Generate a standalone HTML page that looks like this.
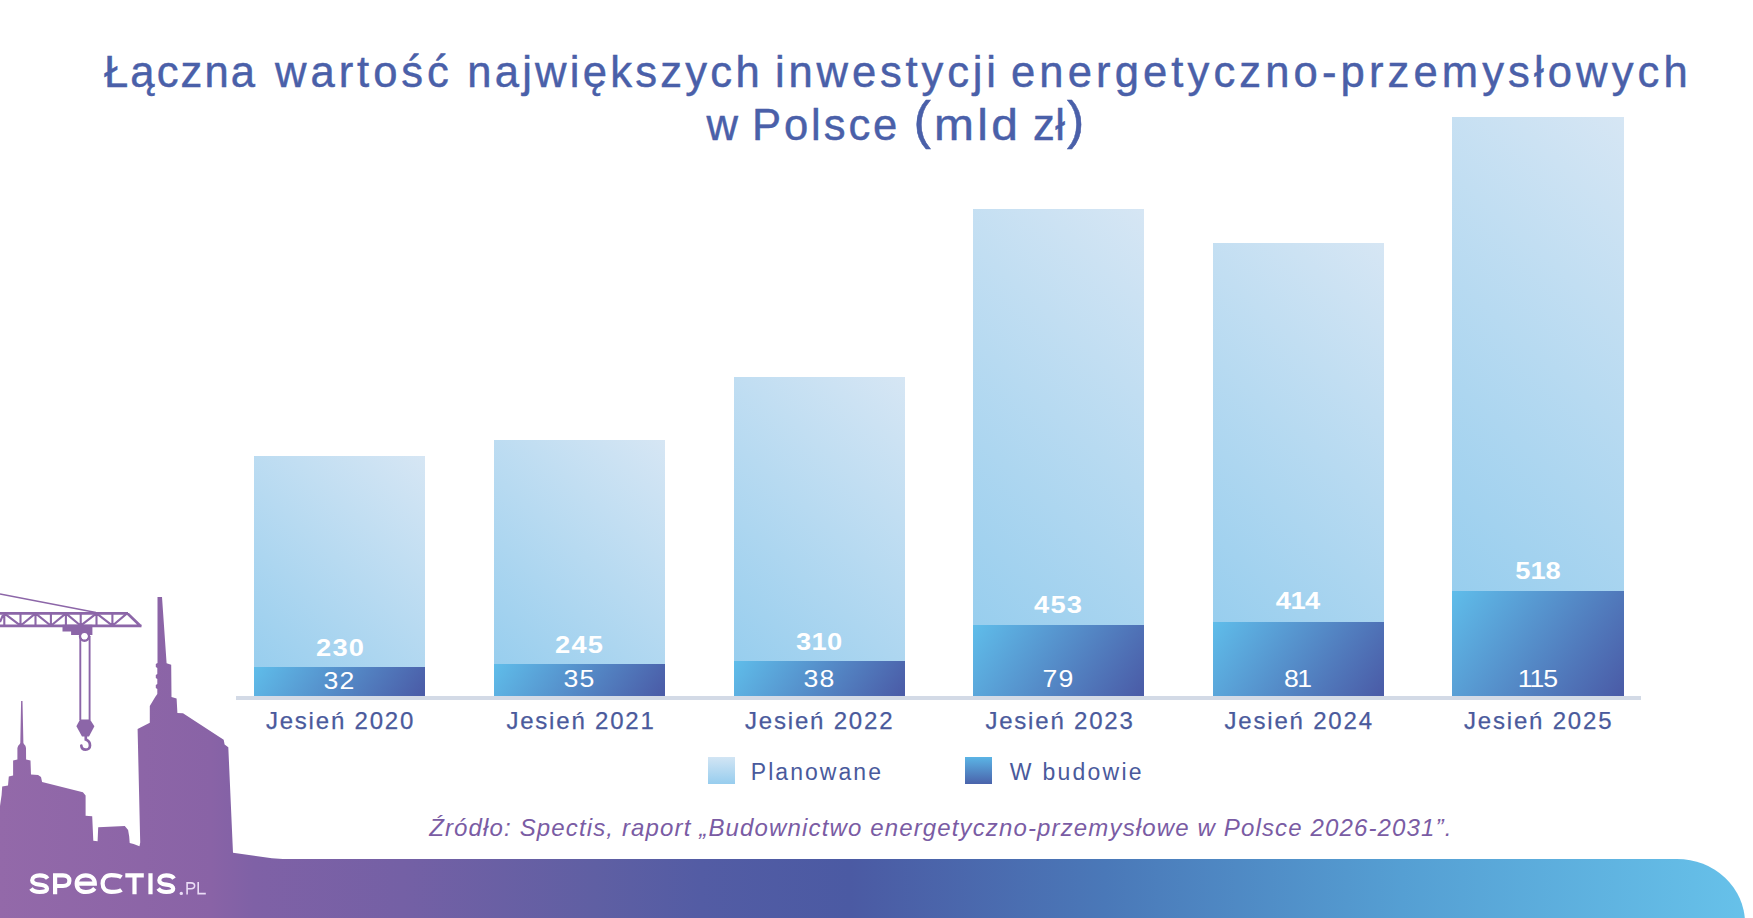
<!DOCTYPE html>
<html><head><meta charset="utf-8">
<style>
html,body{margin:0;padding:0;}
body{width:1753px;height:918px;position:relative;overflow:hidden;background:#fff;font-family:"Liberation Sans",sans-serif;}
.t{position:absolute;white-space:nowrap;line-height:1;}
.title{color:#4a60a9;font-size:43.6px;-webkit-text-stroke:0.45px #4a60a9;}
.bar{position:absolute;width:171px;background:linear-gradient(222deg,#d6e6f4 0%,#98ceee 100%);}
.dk{position:absolute;width:171px;background:linear-gradient(125deg,#5fbdea 0%,#4a5aa6 100%);}
.v{position:absolute;width:120px;text-align:center;color:#fff;font-size:24px;line-height:1;}
.vb{font-weight:bold;letter-spacing:1px;text-indent:1px;transform:scaleX(1.137);}
.vr{letter-spacing:1px;text-indent:1px;transform:scaleX(1.11);}
.lab{position:absolute;width:240px;text-align:center;color:#4a5a9c;font-size:24px;letter-spacing:1.8px;line-height:1;-webkit-text-stroke:0.25px #4a5a9c;}
.axis{position:absolute;left:236px;top:696px;width:1405px;height:4px;background:#d3dae6;}
.sq{position:absolute;width:27px;height:27px;top:757px;}
.leg{position:absolute;color:#4a5a9c;font-size:23px;line-height:1;white-space:nowrap;}
.src{position:absolute;color:#7a5ca4;font-size:24px;font-style:italic;line-height:1;white-space:nowrap;}
.band{position:absolute;left:0;top:859px;width:1745px;height:120px;border-top-right-radius:68px 64px;
 background:linear-gradient(90deg,#9369a9 0px,#8963a6 210px,#7f61a6 254px,#7460a5 403px,#5f5fa3 596px,#535ca4 701px,#4b5aa3 850px,#4a78b8 1104px,#559fd3 1402px,#67c2ea 1753px);}
</style></head><body>

<div class="t title tw" style="left:104px;top:50.6px;letter-spacing:2.1px;">Łączna</div><div class="t title tw" style="left:275px;top:50.6px;letter-spacing:3.95px;">wartość</div><div class="t title tw" style="left:467.2px;top:50.6px;letter-spacing:3.24px;">największych</div><div class="t title tw" style="left:775px;top:50.6px;letter-spacing:3.83px;">inwestycji</div><div class="t title tw" style="left:1011px;top:50.6px;letter-spacing:4.1px;">energetyczno-przemysłowych</div>
<div class="t title tw" style="left:706.4px;top:104.4px;letter-spacing:2.9px;">w</div><div class="t title tw" style="left:752px;top:104.4px;letter-spacing:2.9px;">Polsce</div><div class="t title tw" style="left:913.5px;top:93.7px;font-size:52px;">(</div><div class="t title tw" style="left:934px;top:104.4px;letter-spacing:3px;transform:scaleX(1.1);transform-origin:0 0;">mld</div><div class="t title tw" style="left:1033px;top:104.4px;letter-spacing:0.5px;">zł</div><div class="t title tw" style="left:1067px;top:93.7px;font-size:52px;">)</div>

<div class="axis"></div>

<div class="bar" style="left:254px;top:456px;height:211px;"></div><div class="dk" style="left:254px;top:667px;height:29px;"></div>
<div class="bar" style="left:494px;top:440px;height:224px;"></div><div class="dk" style="left:494px;top:664px;height:32px;"></div>
<div class="bar" style="left:734px;top:377px;height:284px;"></div><div class="dk" style="left:734px;top:661px;height:35px;"></div>
<div class="bar" style="left:973px;top:209px;height:415.79999999999995px;"></div><div class="dk" style="left:973px;top:624.8px;height:71.20000000000005px;"></div>
<div class="bar" style="left:1213px;top:243px;height:378.79999999999995px;"></div><div class="dk" style="left:1213px;top:621.8px;height:74.20000000000005px;"></div>
<div class="bar" style="left:1452px;top:117px;height:474px;width:172px;"></div><div class="dk" style="left:1452px;top:591px;height:105px;width:172px;"></div>
<div class="v vb" style="left:279.85px;top:635.7px;">230</div><div class="v vr" style="left:279.45px;top:669.3px;">32</div>
<div class="v vb" style="left:519.45px;top:633.1px;">245</div><div class="v vr" style="left:519.25px;top:667px;">35</div>
<div class="v vb" style="left:758.8px;top:630px;letter-spacing:0.3px;text-indent:0.3px;">310</div><div class="v vr" style="left:759px;top:667px;">38</div>
<div class="v vb" style="left:997.5999999999999px;top:593px;">453</div><div class="v vr" style="left:997.5999999999999px;top:667.2px;">79</div>
<div class="v vb" style="left:1238px;top:589.4px;letter-spacing:-0.5px;text-indent:-0.5px;">414</div><div class="v vr" style="left:1238.35px;top:667.2px;letter-spacing:-1.5px;text-indent:-1.5px;">81</div>
<div class="v vb" style="left:1478px;top:559.3px;letter-spacing:0px;text-indent:0px;">518</div><div class="v vr" style="left:1477.5px;top:667px;letter-spacing:-1px;text-indent:-1px;">115</div>

<div class="lab" style="left:220.5px;top:708.7px;">Jesień 2020</div>
<div class="lab" style="left:461px;top:708.7px;">Jesień 2021</div>
<div class="lab" style="left:699.7px;top:708.7px;">Jesień 2022</div>
<div class="lab" style="left:940px;top:708.7px;">Jesień 2023</div>
<div class="lab" style="left:1179.2px;top:708.7px;">Jesień 2024</div>
<div class="lab" style="left:1418.7px;top:708.7px;">Jesień 2025</div>

<div class="sq" style="left:708px;background:linear-gradient(180deg,#d2e5f4,#97cdee);"></div>
<div class="leg" style="left:750.8px;top:760.8px;letter-spacing:2.05px;">Planowane</div>
<div class="sq" style="left:965px;background:linear-gradient(180deg,#5bb4e5,#4a63ab);"></div>
<div class="leg" style="left:1009.8px;top:760.8px;letter-spacing:2.26px;">W budowie</div>

<div class="src" style="left:429.2px;top:815.7px;letter-spacing:1.14px;">Źródło: Spectis, raport „Budownictwo energetyczno-przemysłowe w Polsce 2026-2031”.</div>

<div class="band"></div>
<svg style="position:absolute;left:0;top:0" width="1753" height="918" viewBox="0 0 1753 918">
<defs>
<linearGradient id="sky" gradientUnits="userSpaceOnUse" x1="0" y1="0" x2="1753" y2="0">
<stop offset="0" stop-color="#9369a9"/><stop offset="0.12" stop-color="#8963a6"/><stop offset="0.145" stop-color="#7f61a6"/><stop offset="0.23" stop-color="#7460a5"/><stop offset="0.34" stop-color="#5f5fa3"/><stop offset="0.4" stop-color="#535ca4"/><stop offset="0.485" stop-color="#4b5aa3"/><stop offset="0.63" stop-color="#4a78b8"/><stop offset="0.8" stop-color="#559fd3"/><stop offset="1" stop-color="#67c2ea"/>
</linearGradient>
</defs>
<g fill="url(#sky)" stroke="none">
<polygon points="0,918 0,806 1.6,795 2.2,786.5 8,785.5 8.8,776.5 13.1,775.5 13.1,760.4 17.4,759.5 17.4,748 18.2,745.8 19.6,744.2 20.3,743 21.1,701 22.5,701 23.4,743 24.1,744.2 25.4,745.8 26,748 26.1,759.5 30.5,760.4 31,774.5 38.1,775 41,777 42.1,782 82.9,792.3 85.6,795.6 85.6,815.7 92.2,816.3 93.3,840.8 97.6,841.3 98.2,827.2 124.8,826.1 128.1,829.9 129.2,836.4 129.7,843 133.6,844 139.5,846.2 140.2,842.5 137.6,729 149.8,722.8 149.8,706 155.2,696.9 157.3,694 157.3,689 155.8,688 155.8,685 157.3,684 157.3,679 155.8,678 155.8,675 157.3,674 157.3,668 155.8,667 155.8,664 157.5,663 157.5,596.9 162,596.9 166.6,663.3 171.2,664.8 171.5,696.9 176.6,698.4 177.4,713 183,713.3 223.7,739.8 224.6,744.4 228.3,747.2 233,852.8 271.9,858.3 290,859.5 290,918"/>
</g>
<g stroke="#8c66a8" fill="none">
<path stroke-width="1.4" d="M0 594L96 612.5"/>
<path stroke-width="2.7" d="M0 613.4H128M0 625.9H141.5M127 613L141 626.5"/>
<path stroke-width="2.1" d="M4.3 613.4V625.7M20.5 613.4V625.7M35.5 613.4V625.7M50.9 613.4V625.7M65.9 613.4V625.7M80.7 613.4V625.7M96.5 613.4V625.7M112.4 613.4V625.7M4.3 613.4L20.5 625.7M20.5 625.7L35.5 613.4M35.5 613.4L50.9 625.7M50.9 625.7L65.9 613.4M65.9 613.4L80.7 625.7M80.7 625.7L96.5 613.4M96.5 613.4L112.4 625.7M112.4 625.7L127 613.4M0 622L3 615"/>
<path stroke-width="1.9" d="M80.3 636V720M89.6 636V720"/>
<circle cx="84.5" cy="636.2" r="4.4" stroke-width="2.6"/>
<path stroke-width="2.7" stroke-linecap="round" d="M85.8 735.5V739.6C88.6 740.8 90 742.8 90 745.4C90 748 88.1 749.6 85.6 749.6C83.2 749.6 81.5 748 81.3 745.6"/>
</g>
<g fill="#8c66a8">
<path d="M62.5 624.7H92.4V631.5H92.4V635H71.1V631.5H62.5Z"/>
<path d="M80 719.5H90L94.4 726.3L89 736.6H82L76.4 726.3Z"/>
</g>
<circle cx="84.5" cy="636.2" r="3.1" fill="#fff"/>
<g fill="none" stroke="#fff" stroke-width="4.2" stroke-linecap="butt">
<path d="M47.6 878.6C46 876.3 43 875.4 39.6 875.4C35.2 875.4 32.2 877.3 32.2 880.2C32.2 883.3 35.3 884.1 39.6 884.6C44 885.1 47 886.1 47 888.8C47 891.1 44.2 892 39.6 892C35.8 892 32.8 890.9 31 888.5"/>
<path d="M55.1 894.2V875.4H63C67.2 875.4 69.4 877.7 69.4 880.7C69.4 883.7 67.2 886 63 886H55.1"/>
<path d="M76.7 883.7H94.8C94.8 878.8 91.5 875.4 85.8 875.4C80 875.4 76.7 879.2 76.7 883.7C76.7 888.5 80 892 85.8 892C89.5 892 92.7 890.8 94.8 888.4"/>
<path d="M121.5 877.3C119.5 875.8 116.5 875.2 111.3 875.2C105.6 875.2 102.6 879 102.6 883.6C102.6 888.2 105.6 891.9 111.3 891.9C116.5 891.9 119.5 891.4 121.5 889.9"/>
<path d="M125.3 875.4H143.8M134.5 875.4V894.2M150.5 873.3V894.2"/>
<path d="M174 878.6C172.5 876.3 169.6 875.4 166.3 875.4C162.1 875.4 159.3 877.3 159.3 880.2C159.3 883.3 162.3 884.1 166.3 884.6C170.5 885.1 173.2 886.1 173.2 888.8C173.2 891.1 170.6 892 166.3 892C162.7 892 159.9 890.9 158.2 888.5"/>
</g>
<g fill="none" stroke="#eadcf6" stroke-width="1.6">
<path d="M187.1 894.4V882.9H191C193.3 882.9 194.6 884.1 194.6 885.8C194.6 887.5 193.3 888.7 191 888.7H187.1"/>
<path d="M198.2 882.1V893.6H205.8"/>
</g>
<circle cx="181.3" cy="893.4" r="1.7" fill="#eadcf6"/>

</svg>


</body></html>
